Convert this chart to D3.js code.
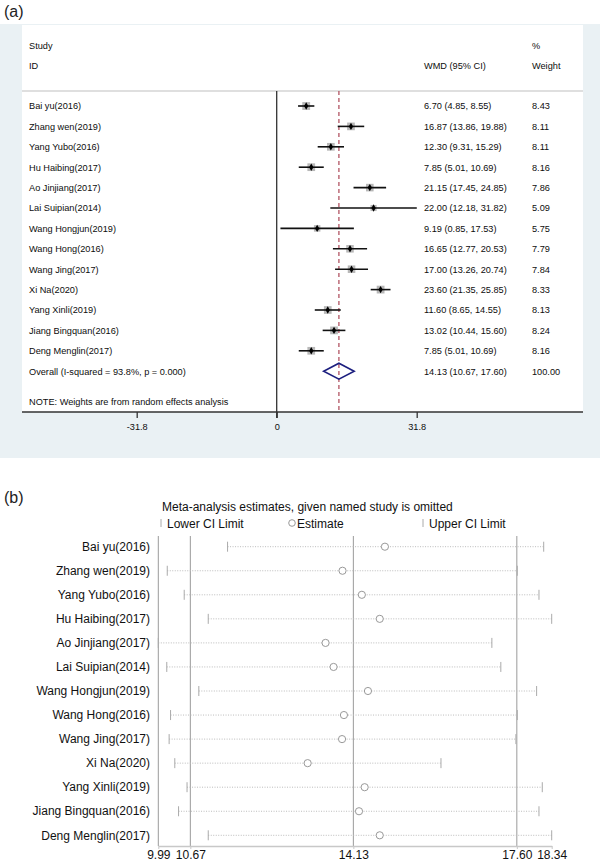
<!DOCTYPE html>
<html><head><meta charset="utf-8">
<script src="https://cdn.jsdelivr.net/npm/d3@7"></script>
<style>body{margin:0;background:#fff} svg{display:block;font-family:"Liberation Sans",Arial,sans-serif}</style>
</head><body><svg id="c" width="600" height="865"></svg>
<script>
// ---------- DATA ----------
const studies = ["Bai yu(2016)","Zhang wen(2019)","Yang Yubo(2016)","Hu Haibing(2017)","Ao Jinjiang(2017)","Lai Suipian(2014)","Wang Hongjun(2019)","Wang Hong(2016)","Wang Jing(2017)","Xi Na(2020)","Yang Xinli(2019)","Jiang Bingquan(2016)","Deng Menglin(2017)"];
const wmd     = [6.70,16.87,12.30,7.85,21.15,22.00,9.19,16.65,17.00,23.60,11.60,13.02,7.85];
const ciLow   = [4.85,13.86,9.31,5.01,17.45,12.18,0.85,12.77,13.26,21.35,8.65,10.44,5.01];
const ciHigh  = [8.55,19.88,15.29,10.69,24.85,31.82,17.53,20.53,20.74,25.85,14.55,15.60,10.69];
const weights = [8.43,8.11,8.11,8.16,7.86,5.09,5.75,7.79,7.84,8.33,8.13,8.24,8.16];
const overallLabel = "Overall  (I-squared = 93.8%, p = 0.000)";
const overallEst = 14.13, overallLow = 10.67, overallHigh = 17.60, overallWeight = 100.00;
const axisTicksA = [-31.8, 0, 31.8];
const axisLabelsA = ["-31.8", "0", "31.8"];

const omitEst  = [14.80,13.90,14.31,14.69,13.54,13.71,14.44,13.93,13.89,13.16,14.37,14.25,14.69];
const omitLow  = [11.46,10.18,10.54,11.05,9.99,10.17,10.85,10.25,10.22,10.34,10.60,10.42,11.05];
const omitHigh = [18.17,17.61,18.07,18.34,17.07,17.26,18.02,17.61,17.58,15.99,18.14,18.07,18.34];
const axisTicksB = [9.99,10.67,14.13,17.60,18.34];
const gridB = [10.67,14.13,17.60];

// ---------- PANEL A ----------
const svg = d3.select("#c");
const fA = 9.2, txt = "#0d0d0d";
svg.append("text").attr("x",4).attr("y",17).attr("font-size",16).attr("fill","#222").text("(a)");
svg.append("rect").attr("x",0).attr("y",24).attr("width",600).attr("height",434).attr("fill","#eaf1f4");
svg.append("rect").attr("x",22).attr("y",25).attr("width",561).attr("height",387).attr("fill","#fff");

const xA = d3.scaleLinear().domain([-31.8,31.8]).range([136.7,416.7]);
const yA = d3.scaleLinear().domain([0,13]).range([106,371.2]);
const gA = svg.append("g").attr("font-size",fA).attr("fill",txt);

gA.append("line").attr("x1",22).attr("x2",583).attr("y1",91).attr("y2",91).attr("stroke","#d4d4d4").attr("stroke-width",1.5);
const hdr = [["Study",29,49],["ID",29,69],["WMD (95% CI)",424,69],["%",532,49],["Weight",532,69]];
gA.selectAll("text.h").data(hdr).join("text").attr("class","h").attr("x",d=>d[1]).attr("y",d=>d[2]).text(d=>d[0]);

// reference lines
gA.append("line").attr("x1",xA(0)).attr("x2",xA(0)).attr("y1",91).attr("y2",418).attr("stroke","#333").attr("stroke-width",1.3);
gA.append("line").attr("x1",xA(overallEst)).attr("x2",xA(overallEst)).attr("y1",91).attr("y2",412)
  .attr("stroke","#b25563").attr("stroke-width",1.3).attr("stroke-dasharray","4,3");

// axis
const axA = d3.axisBottom(xA).tickValues(axisTicksA).tickSize(6).tickSizeOuter(0).tickFormat((d,i)=>axisLabelsA[i]);
const gax = svg.append("g").attr("transform","translate(0,412)").call(axA);
gax.select(".domain").remove();
gax.append("line").attr("x1",22).attr("x2",583).attr("stroke","#333").attr("stroke-width",1.3);
gax.selectAll(".tick line").attr("stroke","#333").attr("stroke-width",1.3);
gax.selectAll(".tick text").attr("font-size",fA).attr("fill",txt).attr("font-family","Liberation Sans, Arial").attr("dy","0.95em");

const idx = d3.range(studies.length);
const rows = gA.selectAll("g.row").data(idx).join("g").attr("class","row");
rows.append("text").attr("x",29).attr("y",i=>yA(i)+3.3).text(i=>studies[i]);
rows.append("text").attr("x",424).attr("y",i=>yA(i)+3.3).text(i=>`${wmd[i].toFixed(2)} (${ciLow[i].toFixed(2)}, ${ciHigh[i].toFixed(2)})`);
rows.append("text").attr("x",532).attr("y",i=>yA(i)+3.3).text(i=>weights[i].toFixed(2));
rows.append("rect").attr("x",i=>xA(wmd[i])-Math.sqrt(weights[i])*1.35).attr("y",i=>yA(i)-Math.sqrt(weights[i])*1.35)
  .attr("width",i=>Math.sqrt(weights[i])*2.7).attr("height",i=>Math.sqrt(weights[i])*2.7).attr("fill","#b8b8b8");
rows.append("line").attr("x1",i=>xA(ciLow[i])).attr("x2",i=>xA(ciHigh[i])).attr("y1",i=>yA(i)).attr("y2",i=>yA(i)).attr("stroke","#111").attr("stroke-width",1.6);
rows.append("path").attr("d",d3.symbol(d3.symbolDiamond,16)).attr("transform",i=>`translate(${xA(wmd[i])},${yA(i)})`).attr("fill","#000");

// overall
const yo = yA(13);
gA.append("text").attr("x",29).attr("y",yo+3.3).text(overallLabel);
gA.append("text").attr("x",424).attr("y",yo+3.3).text(`${overallEst.toFixed(2)} (${overallLow.toFixed(2)}, ${overallHigh.toFixed(2)})`);
gA.append("text").attr("x",532).attr("y",yo+3.3).text(overallWeight.toFixed(2));
gA.append("polygon").attr("points",[[xA(overallLow),yo],[xA(overallEst),yo-8],[xA(overallHigh),yo],[xA(overallEst),yo+8]].map(p=>p.join(",")).join(" "))
  .attr("fill","none").attr("stroke","#1c1f7f").attr("stroke-width",1.6);
gA.append("text").attr("x",29).attr("y",405).text("NOTE: Weights are from random effects analysis");

// ---------- PANEL B ----------
const fB = 12;
svg.append("text").attr("x",4).attr("y",503).attr("font-size",16).attr("fill","#222").text("(b)");
const xB = d3.scaleLinear().domain([9.99,18.34]).range([158.3,551.7]);
const yB = d3.scaleLinear().domain([0,12]).range([546.7,835.3]);
const gB = svg.append("g").attr("font-size",fB).attr("fill","#111");
gB.append("text").attr("x",162).attr("y",511).text("Meta-analysis estimates, given named study is omitted");
// legend
gB.append("line").attr("x1",161).attr("x2",161).attr("y1",519).attr("y2",527).attr("stroke","#aaa");
gB.append("text").attr("x",167).attr("y",527.5).text("Lower CI Limit");
gB.append("circle").attr("cx",292).attr("cy",523).attr("r",3.3).attr("fill","#fff").attr("stroke","#999");
gB.append("text").attr("x",297).attr("y",527.5).text("Estimate");
gB.append("line").attr("x1",423).attr("x2",423).attr("y1",519).attr("y2",527).attr("stroke","#aaa");
gB.append("text").attr("x",429).attr("y",527.5).text("Upper CI Limit");

// grid / axes
gB.append("line").attr("x1",xB(9.99)).attr("x2",xB(9.99)).attr("y1",536).attr("y2",846).attr("stroke","#9a9a9a");
gB.selectAll("line.grid").data(gridB).join("line").attr("class","grid").attr("x1",d=>xB(d)).attr("x2",d=>xB(d)).attr("y1",536).attr("y2",846).attr("stroke","#9a9a9a");
const axB = d3.axisBottom(xB).tickValues(axisTicksB).tickSize(3).tickSizeOuter(0).tickFormat(d3.format(".2f"));
const gbx = svg.append("g").attr("transform","translate(0,846)").call(axB);
gbx.select(".domain").attr("stroke","#c8c8c8").attr("stroke-width",1.6);
gbx.selectAll(".tick line").attr("stroke","#c8c8c8");
gbx.selectAll(".tick text").attr("font-size",fB).attr("fill","#111").attr("font-family","Liberation Sans, Arial").attr("dy","0.55em");

const rb = gB.selectAll("g.rb").data(idx).join("g").attr("class","rb");
rb.append("text").attr("x",150).attr("y",i=>yB(i)+4.2).attr("text-anchor","end").text(i=>studies[i]);
rb.append("line").attr("x1",i=>xB(omitLow[i])).attr("x2",i=>xB(omitHigh[i])).attr("y1",i=>yB(i)).attr("y2",i=>yB(i))
  .attr("stroke","#bbb").attr("stroke-dasharray","1,1.5");
rb.append("line").attr("x1",i=>xB(omitLow[i])).attr("x2",i=>xB(omitLow[i])).attr("y1",i=>yB(i)-5).attr("y2",i=>yB(i)+5).attr("stroke","#aaa");
rb.append("line").attr("x1",i=>xB(omitHigh[i])).attr("x2",i=>xB(omitHigh[i])).attr("y1",i=>yB(i)-5).attr("y2",i=>yB(i)+5).attr("stroke","#aaa");
rb.append("circle").attr("cx",i=>xB(omitEst[i])).attr("cy",i=>yB(i)).attr("r",3.6).attr("fill","#fff").attr("stroke","#999");
</script></body></html>
